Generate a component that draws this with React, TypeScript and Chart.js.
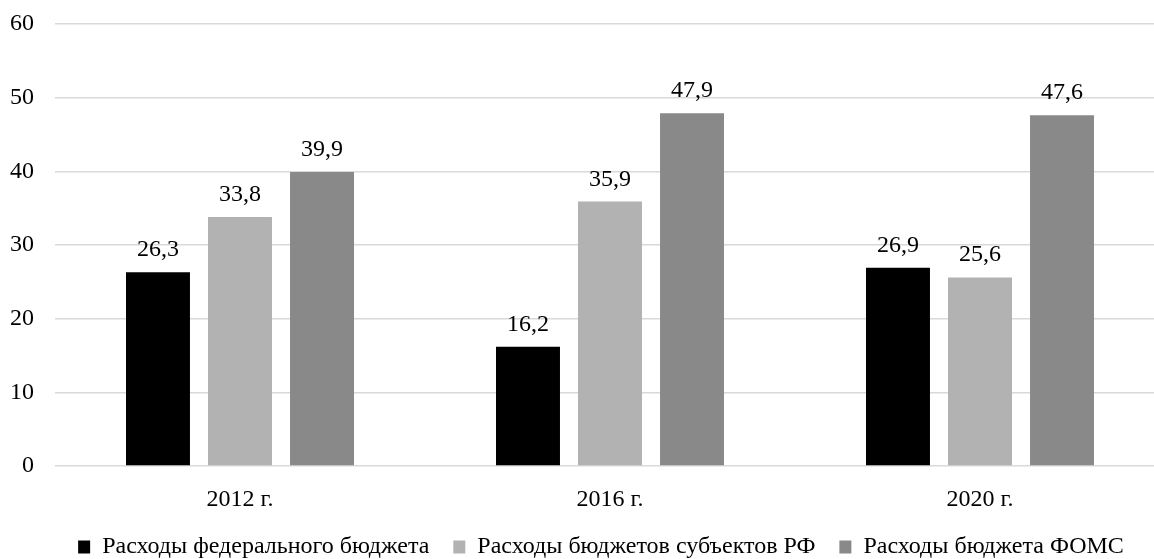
import React, { useEffect, useRef } from "react";
import { Chart, registerables } from "chart.js";

Chart.register(...registerables);

const categories = ["2012 г.", "2016 г.", "2020 г."];
const federal = [26.3, 16.2, 26.9];
const regional = [33.8, 35.9, 25.6];
const foms = [39.9, 47.9, 47.6];
const seriesNames = [
  "Расходы федерального бюджета",
  "Расходы бюджетов субъектов РФ",
  "Расходы бюджета ФОМС",
];
const yTicks = [0, 10, 20, 30, 40, 50, 60];

const FONT = '"Liberation Serif", "Times New Roman", serif';
const FS = 24;
const LEGEND_PAD = 24;
const LEGEND_CENTER = 601;

const valueLabels = {
  id: "valueLabels",
  afterLayout(chart: any) {
    const lg = chart.legend;
    if (lg) {
      const shift = LEGEND_CENTER - (lg.left + lg.right) / 2;
      lg.left += shift;
      lg.right += shift;
    }
  },
  afterDatasetsDraw(chart: any) {
    const ctx = chart.ctx;
    ctx.save();
    ctx.font = `${FS}px ${FONT}`;
    ctx.fillStyle = "#000";
    ctx.textAlign = "center";
    ctx.textBaseline = "alphabetic";
    chart.data.datasets.forEach((ds: any, i: number) => {
      const meta = chart.getDatasetMeta(i);
      meta.data.forEach((bar: any, j: number) => {
        const v = ds.data[j] as number;
        const txt = v.toFixed(1).replace(".", ",");
        ctx.fillText(txt, bar.x, bar.y - 16);
      });
    });
    ctx.restore();
  },
};

export default function App() {
  const ref = useRef<HTMLCanvasElement | null>(null);
  useEffect(() => {
    if (!ref.current) return;
    const chart = new Chart(ref.current, {
      type: "bar",
      data: {
        labels: categories,
        datasets: [
          { label: seriesNames[0], data: federal, backgroundColor: "#000000" },
          { label: seriesNames[1], data: regional, backgroundColor: "#b2b2b2" },
          { label: seriesNames[2], data: foms, backgroundColor: "#898989" },
        ],
      },
      options: {
        animation: false,
        responsive: false,
        maintainAspectRatio: false,
        layout: { padding: { left: 6, right: 35, top: 24, bottom: 0 } },
        datasets: {
          bar: { categoryPercentage: 0.665, barPercentage: 0.78 },
        },
        scales: {
          x: {
            grid: { display: false, drawTicks: false },
            border: { display: false },
            ticks: {
              color: "#000",
              font: { family: FONT, size: FS },
              padding: 19,
            },
            afterFit: (axis: any) => {
              axis.height = 69 - LEGEND_PAD;
              axis.paddingLeft = 0;
              axis.paddingRight = 0;
            },
          },
          y: {
            min: 0,
            max: 60,
            afterBuildTicks: (axis: any) => {
              axis.ticks = yTicks.map((v) => ({ value: v }));
            },
            grid: { color: "#d9d9d9", lineWidth: 1.5, drawTicks: false },
            border: { display: false },
            ticks: {
              color: "#000",
              font: { family: FONT, size: FS },
              padding: 21,
            },
            afterFit: (axis: any) => {
              axis.width = 49;
              axis.paddingTop = 0;
              axis.paddingBottom = 0;
            },
          },
        },
        plugins: {
          legend: {
            position: "bottom",
            maxHeight: FS + LEGEND_PAD,
            labels: {
              color: "#000",
              font: { family: FONT, size: FS },
              boxWidth: 12,
              boxHeight: 13,
              padding: LEGEND_PAD,
            },
          },
          tooltip: { enabled: false },
        },
      },
      plugins: [valueLabels],
    });
    return () => chart.destroy();
  }, []);
  return (
    <div
      style={{
        position: "fixed",
        left: 0,
        top: 0,
        width: 1154,
        height: 559,
        overflow: "hidden",
        background: "#fff",
      }}
    >
      <canvas ref={ref} width={1200} height={559} style={{ width: 1200, height: 559 }} />
    </div>
  );
}
